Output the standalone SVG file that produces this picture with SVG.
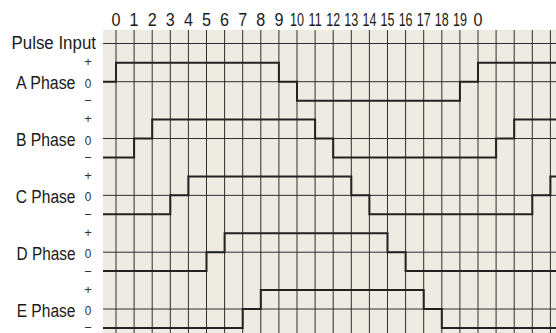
<svg xmlns="http://www.w3.org/2000/svg" width="556" height="333" viewBox="0 0 556 333">
<style>
.lbl{font-family:"Liberation Sans",Arial,sans-serif;font-size:19px;fill:#1a1a1a;text-anchor:end}
.num{font-family:"Liberation Sans",Arial,sans-serif;font-size:19px;fill:#1a1a1a;text-anchor:middle}
.sm{font-family:"Liberation Sans",Arial,sans-serif;font-size:13px;fill:#333;text-anchor:middle}
.grid{stroke:#2e2e2e;stroke-width:1;fill:none}
.wave{stroke:#222;stroke-width:2;fill:none;stroke-linejoin:miter}
</style>
<rect x="103" y="30" width="453" height="303" fill="#eeebe3"/>
<g id="grid" class="grid">
<path d="M116,30V333M134.1,30V333M152.2,30V333M170.3,30V333M188.4,30V333M206.5,30V333M224.6,30V333M242.7,30V333M260.8,30V333M278.9,30V333M297,30V333M315.1,30V333M333.2,30V333M351.3,30V333M369.4,30V333M387.5,30V333M405.6,30V333M423.7,30V333M441.8,30V333M459.9,30V333M478,30V333M496.1,30V333M514.2,30V333M532.3,30V333M550.4,30V333"/>
<path d="M103,43.5H556M103,81.7H556M103,138.53H556M103,195.36H556M103,252.19H556M103,309.02H556"/>
</g>
<g id="step-numbers">
<text class="num" transform="translate(116,25.7) scale(0.85,1)">0</text>
<text class="num" transform="translate(134.1,25.7) scale(0.85,1)">1</text>
<text class="num" transform="translate(152.2,25.7) scale(0.85,1)">2</text>
<text class="num" transform="translate(170.3,25.7) scale(0.85,1)">3</text>
<text class="num" transform="translate(188.4,25.7) scale(0.85,1)">4</text>
<text class="num" transform="translate(206.5,25.7) scale(0.85,1)">5</text>
<text class="num" transform="translate(224.6,25.7) scale(0.85,1)">6</text>
<text class="num" transform="translate(242.7,25.7) scale(0.85,1)">7</text>
<text class="num" transform="translate(260.8,25.7) scale(0.85,1)">8</text>
<text class="num" transform="translate(278.9,25.7) scale(0.85,1)">9</text>
<text class="num" transform="translate(297,25.7) scale(0.66,1)">10</text>
<text class="num" transform="translate(315.1,25.7) scale(0.66,1)">11</text>
<text class="num" transform="translate(333.2,25.7) scale(0.66,1)">12</text>
<text class="num" transform="translate(351.3,25.7) scale(0.66,1)">13</text>
<text class="num" transform="translate(369.4,25.7) scale(0.66,1)">14</text>
<text class="num" transform="translate(387.5,25.7) scale(0.66,1)">15</text>
<text class="num" transform="translate(405.6,25.7) scale(0.66,1)">16</text>
<text class="num" transform="translate(423.7,25.7) scale(0.66,1)">17</text>
<text class="num" transform="translate(441.8,25.7) scale(0.66,1)">18</text>
<text class="num" transform="translate(459.9,25.7) scale(0.66,1)">19</text>
<text class="num" transform="translate(478,25.7) scale(0.85,1)">0</text>
</g>
<g id="pulse-input">
<text class="lbl" transform="translate(96,48.5) scale(0.89,1)">Pulse Input</text>
</g>
<g id="phase-a">
<text class="lbl" transform="translate(75.5,89.2) scale(0.84,1)">A Phase</text>
<text class="sm" x="88" y="66.4">+</text>
<text class="sm" transform="translate(88,87.7) scale(0.9,1)">0</text>
<text class="sm" x="88" y="105">−</text>
</g>
<g id="phase-b">
<text class="lbl" transform="translate(75.5,146) scale(0.83,1)">B Phase</text>
<text class="sm" x="88" y="123.2">+</text>
<text class="sm" transform="translate(88,144.5) scale(0.9,1)">0</text>
<text class="sm" x="88" y="161.9">−</text>
</g>
<g id="phase-c">
<text class="lbl" transform="translate(75.5,202.9) scale(0.82,1)">C Phase</text>
<text class="sm" x="88" y="180">+</text>
<text class="sm" transform="translate(88,201.4) scale(0.9,1)">0</text>
<text class="sm" x="88" y="218.7">−</text>
</g>
<g id="phase-d">
<text class="lbl" transform="translate(75.5,259.7) scale(0.81,1)">D Phase</text>
<text class="sm" x="88" y="236.9">+</text>
<text class="sm" transform="translate(88,258.2) scale(0.9,1)">0</text>
<text class="sm" x="88" y="275.5">−</text>
</g>
<g id="phase-e">
<text class="lbl" transform="translate(75.5,316.5) scale(0.82,1)">E Phase</text>
<text class="sm" x="88" y="293.7">+</text>
<text class="sm" transform="translate(88,315) scale(0.9,1)">0</text>
<text class="sm" x="88" y="331.5">−</text>
</g>
<g id="connectors" class="wave">
<path id="wave-a" d="M103,81.7H116V62.77H278.9V81.7H297V100.63H459.9V81.7H478V62.77H556"/>
<path id="wave-b" d="M103,157.46H134.1V138.53H152.2V119.6H315.1V138.53H333.2V157.46H496.1V138.53H514.2V119.6H556"/>
<path id="wave-c" d="M103,214.29H170.3V195.36H188.4V176.43H351.3V195.36H369.4V214.29H532.3V195.36H550.4V176.43H556"/>
<path id="wave-d" d="M103,271.12H206.5V252.19H224.6V233.26H387.5V252.19H405.6V271.12H556"/>
<path id="wave-e" d="M103,327.95H242.7V309.02H260.8V290.09H423.7V309.02H441.8V327.95H556"/>
</g>
</svg>
